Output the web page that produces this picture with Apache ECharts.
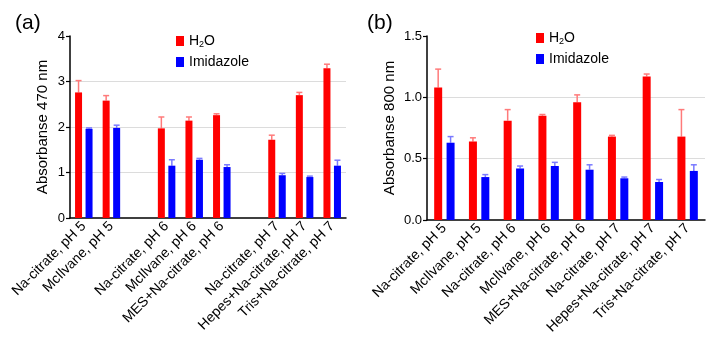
<!DOCTYPE html>
<html>
<head>
<meta charset="utf-8">
<script src="https://cdn.jsdelivr.net/npm/echarts@6/dist/echarts.min.js"></script>
<style>
  html, body { margin: 0; padding: 0; background: #fff; }
  #chart { width: 718px; height: 352px; }
</style>
</head>
<body>
<div id="chart"></div>
<script>
// panel (a) - 470 nm, two empty slots separate the pH groups
var catsA = ['Na-citrate, pH 5', 'McIlvane, pH 5', '', 'Na-citrate, pH 6', 'McIlvane, pH 6', 'MES+Na-citrate, pH 6', '', 'Na-citrate, pH 7', 'Hepes+Na-citrate, pH 7', 'Tris+Na-citrate, pH 7'];
var h2oA = [2.76, 2.58, null, 1.97, 2.14, 2.26, null, 1.72, 2.70, 3.29];
var h2oAErr = [0.26, 0.11, null, 0.25, 0.08, 0.03, null, 0.10, 0.06, 0.09];
var imidA = [1.96, 1.98, null, 1.15, 1.28, 1.12, null, 0.94, 0.90, 1.15];
var imidAErr = [0.02, 0.06, null, 0.13, 0.03, 0.05, null, 0.04, 0.02, 0.12];
var ticksA = [0, 1, 2, 3, 4];

// panel (b) - 800 nm
var catsB = ['Na-citrate, pH 5', 'McIlvane, pH 5', 'Na-citrate, pH 6', 'McIlvane, pH 6', 'MES+Na-citrate, pH 6', 'Na-citrate, pH 7', 'Hepes+Na-citrate, pH 7', 'Tris+Na-citrate, pH 7'];
var h2oB = [1.08, 0.64, 0.81, 0.85, 0.96, 0.68, 1.17, 0.68];
var h2oBErr = [0.15, 0.03, 0.09, 0.01, 0.06, 0.01, 0.02, 0.22];
var imidB = [0.63, 0.35, 0.42, 0.44, 0.41, 0.34, 0.31, 0.40];
var imidBErr = [0.05, 0.02, 0.02, 0.03, 0.04, 0.01, 0.02, 0.05];
var ticksB = [0, 0.5, 1.0, 1.5];

var RED = '#ff0000', BLUE = '#0000ff';
var RED_ERR = '#ff7a7a', BLUE_ERR = '#7a7aff';
var FONT = 'Liberation Sans';

var chart = echarts.init(document.getElementById('chart'));

// error bars: upward only, with a small cap
function errData(vals, errs) {
  var out = [];
  vals.forEach(function (v, i) {
    if (v != null) out.push([i, v, errs[i]]);
  });
  return out;
}
function errRender(offset, color) {
  return function (params, api) {
    var i = api.value(0), v = api.value(1), e = api.value(2);
    var p0 = api.coord([i, v]);
    var p1 = api.coord([i, v + e]);
    var x = p0[0] + offset;
    return {
      type: 'group',
      children: [
        { type: 'line', shape: { x1: x, y1: p0[1], x2: x, y2: p1[1] }, style: { stroke: color, lineWidth: 1.5 } },
        { type: 'line', shape: { x1: x - 3, y1: p1[1], x2: x + 3, y2: p1[1] }, style: { stroke: color, lineWidth: 1.5 } }
      ]
    };
  };
}

function xAxisCfg(idx, cats) {
  return {
    type: 'category', gridIndex: idx, data: cats,
    axisLine: { lineStyle: { color: '#000', width: 1.5 } },
    axisTick: { alignWithLabel: true, length: 5, lineStyle: { color: '#000', width: 1.2 } },
    axisLabel: { interval: 0, rotate: 45, fontSize: 14, color: '#000', fontFamily: FONT, margin: 6 },
    splitLine: { show: false }
  };
}
function yAxisCfg(idx, ticks, name, gap, fmt) {
  return {
    type: 'value', gridIndex: idx,
    min: ticks[0], max: ticks[ticks.length - 1], interval: ticks[1] - ticks[0],
    name: name, nameLocation: 'middle', nameGap: gap,
    nameTextStyle: { fontSize: 15, color: '#000', fontFamily: FONT },
    axisLine: { show: true, lineStyle: { color: '#000', width: 1.5 } },
    axisTick: { show: true, length: 4, lineStyle: { color: '#000', width: 1.2 } },
    axisLabel: { fontSize: 13, color: '#000', fontFamily: FONT, margin: 5, formatter: fmt },
    splitLine: { show: true, showMinLine: false, showMaxLine: false, lineStyle: { color: '#dcdcdc', width: 1.2 } }
  };
}
function legendCfg(left, top) {
  return {
    left: left, top: top, orient: 'vertical', padding: 0,
    itemWidth: 8, itemHeight: 10, itemGap: 6,
    icon: 'rect',
    data: ['H2O', 'Imidazole'],
    formatter: function (n) { return n === 'H2O' ? 'H{s|2}O' : n; },
    textStyle: {
      fontSize: 14, color: '#000', fontFamily: FONT,
      rich: { s: { fontSize: 9, fontFamily: FONT, color: '#000', padding: [7, 0, 0, 0] } }
    }
  };
}

var bwA = 7, gapA = 0.5;
var bwB = 8, gapB = 0.55;
var offA = bwA * (1 + gapA) / 2;
var offB = bwB * (1 + gapB) / 2;

var option = {
  animation: false,
  textStyle: { fontFamily: FONT },
  title: [
    { text: '(a)', left: 10, top: 8, textStyle: { fontSize: 21, fontWeight: 'normal', color: '#000', fontFamily: FONT } },
    { text: '(b)', left: 362, top: 8, textStyle: { fontSize: 21, fontWeight: 'normal', color: '#000', fontFamily: FONT } }
  ],
  legend: [legendCfg(176, 34), legendCfg(536, 31)],
  grid: [
    { left: 70, top: 36, width: 276, height: 182 },
    { left: 427, top: 36, width: 278, height: 184 }
  ],
  xAxis: [xAxisCfg(0, catsA), xAxisCfg(1, catsB)],
  yAxis: [
    yAxisCfg(0, ticksA, 'Absorbanse 470 nm', 20, function (v) { return String(v); }),
    yAxisCfg(1, ticksB, 'Absorbanse 800 nm', 30, function (v) { return v.toFixed(1); })
  ],
  series: [
    { name: 'H2O', type: 'bar', xAxisIndex: 0, yAxisIndex: 0, data: h2oA, barWidth: bwA, barGap: (gapA * 100) + '%', itemStyle: { color: RED } },
    { name: 'Imidazole', type: 'bar', xAxisIndex: 0, yAxisIndex: 0, data: imidA, barWidth: bwA, barGap: (gapA * 100) + '%', itemStyle: { color: BLUE } },
    { name: 'errA1', type: 'custom', xAxisIndex: 0, yAxisIndex: 0, data: errData(h2oA, h2oAErr), renderItem: errRender(-offA, RED_ERR), z: 1 },
    { name: 'errA2', type: 'custom', xAxisIndex: 0, yAxisIndex: 0, data: errData(imidA, imidAErr), renderItem: errRender(offA, BLUE_ERR), z: 1 },
    { name: 'H2O', type: 'bar', xAxisIndex: 1, yAxisIndex: 1, data: h2oB, barWidth: bwB, barGap: (gapB * 100) + '%', itemStyle: { color: RED } },
    { name: 'Imidazole', type: 'bar', xAxisIndex: 1, yAxisIndex: 1, data: imidB, barWidth: bwB, barGap: (gapB * 100) + '%', itemStyle: { color: BLUE } },
    { name: 'errB1', type: 'custom', xAxisIndex: 1, yAxisIndex: 1, data: errData(h2oB, h2oBErr), renderItem: errRender(-offB, RED_ERR), z: 1 },
    { name: 'errB2', type: 'custom', xAxisIndex: 1, yAxisIndex: 1, data: errData(imidB, imidBErr), renderItem: errRender(offB, BLUE_ERR), z: 1 }
  ]
};
chart.setOption(option);
</script>
</body>
</html>
